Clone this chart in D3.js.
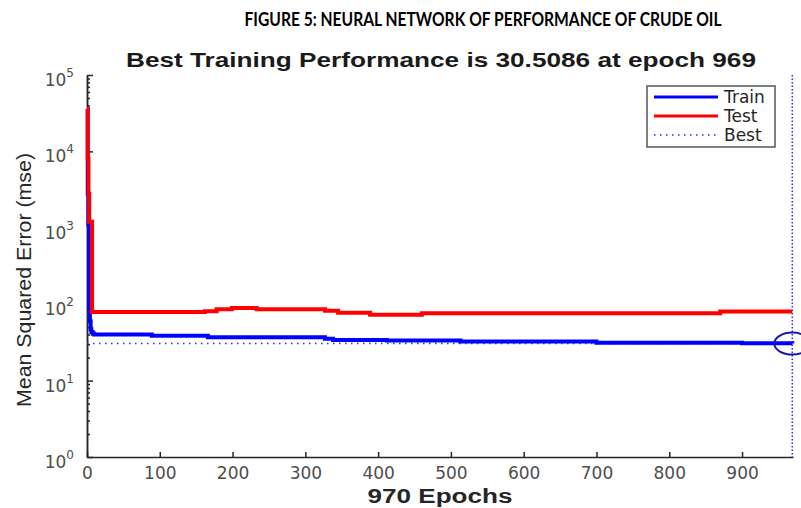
<!DOCTYPE html>
<html>
<head>
<meta charset="utf-8">
<title>Neural network performance</title>
<style>
  body { margin: 0; background: #fff; }
  text { font-family: "DejaVu Sans", sans-serif; }
</style>
</head>
<body>
<script src="https://cdnjs.cloudflare.com/ajax/libs/d3/7.8.5/d3.min.js"></script>
<div id="vis"></div>
<script>

// values
var trainEpochs = [0, 1, 2, 3, 4, 5, 6, 8, 10, 89, 166, 327, 338, 412, 513, 700, 900, 969];
var trainMse = [36000, 2800, 1100, 90, 60, 47, 43, 41, 40, 38.5, 37, 35.2, 34.1, 33.4, 32.4, 31.3, 30.8, 30.5086];
var testEpochs = [0, 1, 2, 3, 7, 162, 178, 199, 233, 327, 345, 389, 460, 870, 969];
var testMse = [36000, 8000, 2800, 1200, 79, 81, 86, 89, 86, 82, 77, 73, 76, 80, 80];
var bestEpoch = 969, bestMse = 30.5086, totalEpochs = 970;
var xTicks = [0, 100, 200, 300, 400, 500, 600, 700, 800, 900];
var yTicks = [1, 10, 100, 1000, 10000, 100000];
var legendNames = ["Train", "Test", "Best"];

var W = 801, H = 508;
var mLeft = 87, mRight = 793, mTop = 75, mBottom = 457;
var arial = "'Liberation Sans', Arial, sans-serif";

var svg = d3.select("#vis").append("svg")
  .attr("width", W).attr("height", H)
  .style("display", "block");
svg.append("rect").attr("width", W).attr("height", H).attr("fill", "#fff");

var x = d3.scaleLinear().domain([0, totalEpochs]).range([mLeft, mRight]);
var y = d3.scaleLog().domain([1, 100000]).range([mBottom, mTop]);

// headings
svg.append("text")
  .attr("x", 483).attr("y", 26)
  .attr("text-anchor", "middle")
  .style("font-family", "Lato, sans-serif")
  .style("font-weight", "bold").style("font-size", "18px")
  .attr("textLength", 477).attr("lengthAdjust", "spacingAndGlyphs")
  .text("FIGURE 5: NEURAL NETWORK OF PERFORMANCE OF CRUDE OIL");

svg.append("text")
  .attr("x", 441).attr("y", 67)
  .attr("text-anchor", "middle")
  .style("font-family", arial)
  .style("font-weight", "bold").style("font-size", "21px")
  .attr("textLength", 630).attr("lengthAdjust", "spacingAndGlyphs")
  .attr("fill", "#1a1a1a")
  .text("Best Training Performance is " + bestMse + " at epoch " + bestEpoch);

// axes (ticks point inward like MATLAB)
var xAxis = svg.append("g")
  .attr("transform", "translate(0," + mBottom + ")")
  .call(d3.axisBottom(x).tickValues(xTicks).tickSize(-5).tickPadding(10).tickSizeOuter(0));
xAxis.selectAll("text").style("font-size", "17px").attr("fill", "#4d4d4d")
  .style("font-family", "DejaVu Sans, sans-serif");

var minor = [];
for (var e = 0; e < 5; e++) for (var k = 2; k <= 9; k++) minor.push(k * Math.pow(10, e));
svg.append("g")
  .attr("transform", "translate(" + mLeft + ",0)")
  .call(d3.axisLeft(y).tickValues(minor).tickSize(-3).tickFormat("").tickSizeOuter(0));
svg.append("g")
  .attr("transform", "translate(" + mLeft + ",0)")
  .call(d3.axisLeft(y).tickValues(yTicks).tickSize(-6).tickFormat("").tickSizeOuter(0));

svg.selectAll(".domain, .tick line").attr("stroke", "#262626").attr("stroke-width", 1.5);

// y tick labels 10^n
var ylab = svg.selectAll("text.ylab").data(yTicks).enter().append("text")
  .attr("class", "ylab")
  .attr("x", 74)
  .attr("y", function(d) { return y(d) + 11; })
  .attr("text-anchor", "end")
  .attr("fill", "#4d4d4d")
  .style("font-size", "17px");
ylab.append("tspan").text("10");
ylab.append("tspan").attr("dy", -9).style("font-size", "12px")
  .text(function(d) { return Math.round(Math.log10(d)); });

// axis labels
svg.append("text")
  .attr("transform", "translate(31,280) rotate(-90)")
  .attr("text-anchor", "middle")
  .attr("fill", "#262626")
  .style("font-family", arial)
  .style("font-size", "20px")
  .attr("textLength", 254).attr("lengthAdjust", "spacingAndGlyphs")
  .text("Mean Squared Error  (mse)");

svg.append("text")
  .attr("x", 440).attr("y", 503)
  .attr("text-anchor", "middle")
  .attr("fill", "#262626")
  .style("font-family", arial)
  .style("font-weight", "bold").style("font-size", "20px")
  .attr("textLength", 145).attr("lengthAdjust", "spacingAndGlyphs")
  .text(totalEpochs + " Epochs");

// best lines
svg.append("line")
  .attr("x1", x(0)).attr("x2", x(bestEpoch))
  .attr("y1", y(bestMse)).attr("y2", y(bestMse))
  .attr("stroke", "#2a2aff").attr("stroke-width", 1.5)
  .attr("stroke-dasharray", "1.5,4.5");
svg.append("line")
  .attr("x1", x(bestEpoch)).attr("x2", x(bestEpoch))
  .attr("y1", mTop).attr("y2", mBottom)
  .attr("stroke", "#2a2aff").attr("stroke-width", 1.5)
  .attr("stroke-dasharray", "1.5,2");

// series
var line = d3.line()
  .x(function(d) { return x(d[0]); })
  .y(function(d) { return y(d[1]); })
  .curve(d3.curveStepAfter);

svg.append("path")
  .datum(d3.zip(trainEpochs, trainMse))
  .attr("d", line).attr("fill", "none")
  .attr("stroke", "#0000ff").attr("stroke-width", 4);
svg.append("path")
  .datum(d3.zip(testEpochs, testMse))
  .attr("d", line).attr("fill", "none")
  .attr("stroke", "#ff0000").attr("stroke-width", 4);

// best circle
svg.append("ellipse")
  .attr("cx", x(bestEpoch)).attr("cy", y(bestMse))
  .attr("rx", 18).attr("ry", 11)
  .attr("fill", "none").attr("stroke", "#1a1aa0").attr("stroke-width", 2);

// legend
var lg = svg.append("g").attr("transform", "translate(647,86)");
lg.append("rect").attr("width", 128).attr("height", 61)
  .attr("fill", "#fff").attr("stroke", "#555").attr("stroke-width", 1.5);
var colors = ["#0000ff", "#ff0000", "#2a2aff"];
legendNames.forEach(function(n, i) {
  var ly = 11 + i * 19;
  lg.append("line").attr("x1", 7).attr("x2", 71).attr("y1", ly).attr("y2", ly)
    .attr("stroke", colors[i])
    .attr("stroke-width", i < 2 ? 3 : 1.5)
    .attr("stroke-dasharray", i < 2 ? null : "1.5,4.5");
  lg.append("text").attr("x", 77).attr("y", ly + 6)
    .attr("fill", "#262626").style("font-size", "17px")
    .text(n);
});

</script>
</body>
</html>
